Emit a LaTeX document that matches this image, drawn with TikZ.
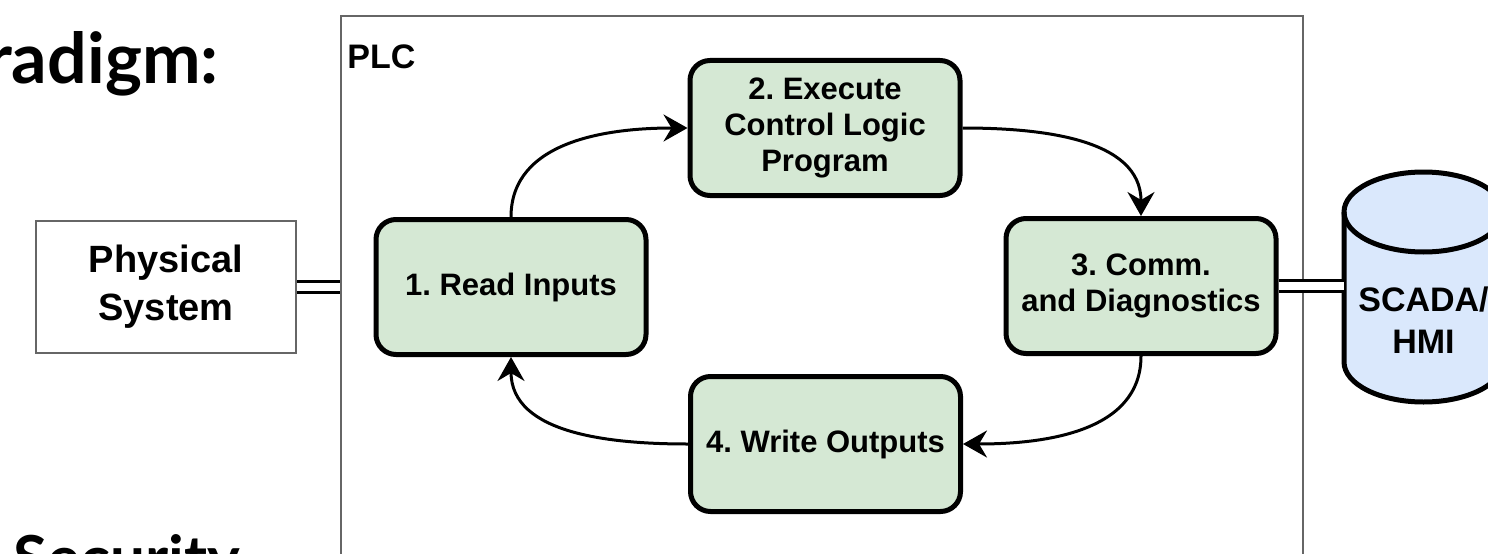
\documentclass[tikz,border=0pt]{standalone}
\usepackage{fontspec}
\setmainfont{Liberation Sans}
\newfontfamily\titlefont{Lato}
\usepackage{xcolor}
\usetikzlibrary{arrows.meta}
\usetikzlibrary{calc}
\frenchspacing

\definecolor{stepgreen}{HTML}{D5E8D4}
\definecolor{hmiblue}{HTML}{DAE8FC}
\definecolor{framegray}{HTML}{666666}

\tikzset{
  phase/.style={draw=black,line width=2.5pt,fill=stepgreen,rounded corners=10pt,
    minimum width=135pt,minimum height=67.5pt,inner sep=0pt,align=center,
    font=\bfseries\fontsize{15.5}{18}\selectfont},
  link/.style={draw=black,line width=1.65pt,double=white,double distance=3.7pt},
  flow/.style={draw=black,line width=1.5pt,-{Stealth[length=12pt,width=13.5pt,inset=4pt]}},
  slide/.style={inner sep=0pt,font=\titlefont\bfseries\fontsize{35}{42}\selectfont}
}

\begin{document}
\begin{tikzpicture}[x=0.5pt,y=0.5pt]
    \useasboundingbox (0,0) rectangle (1488,553);

    % text of the slide
    \node[slide,anchor=base east] (ttl) at (219,470) {radigm:};
    \node[slide,anchor=base west,font=\titlefont\bfseries\fontsize{31}{37}\selectfont] (sec) at (13,-27) {Security};

    % PLC frame
    \node[draw=framegray,line width=1pt,minimum width=481pt,minimum height=292pt,inner sep=0pt] (plc) at (822,245) {};
    \node[anchor=base west,inner sep=0pt,font=\bfseries\fontsize{17}{20}\selectfont] (plclbl) at (347,485) {PLC};

    \node[draw=framegray,line width=1pt,fill=white,minimum width=130pt,minimum height=66pt,inner sep=0pt,
      align=center,font=\bfseries\fontsize{19}{24}\selectfont] (phys) at (166,266) {Physical\\System};

    % SCADA cylinder
    \filldraw[fill=hmiblue,line width=2.5pt] (1344,341) -- (1344,191)
      arc[start angle=180,end angle=360,x radius=39.75pt,y radius=20pt] -- (1503,341)
      arc[start angle=0,end angle=180,x radius=39.75pt,y radius=20pt] -- cycle;
    \draw[line width=2.5pt] (1344,341) arc[start angle=180,end angle=360,x radius=39.75pt,y radius=20pt];
    \node[minimum width=79.5pt,inner sep=0pt,align=center,font=\bfseries\fontsize{17}{21}\selectfont] (scada) at (1423.5,233) {SCADA/\\HMI};

    \begin{scope}[every node/.style={phase}]
    \node (s1) at (511,266) {1. Read Inputs};
    \node (s2) at (825,425) {2. Execute\\Control Logic\\Program};
    \node (s3) at (1141,267) {3. Comm.\\and Diagnostics};
    \node (s4) at (825.5,109) {4. Write Outputs};
    \end{scope}

    \draw[link] (phys.east) -- (phys.east -| plc.west);
    \draw[link] (s3.east) -- (s3.east -| scada.west);

    \begin{scope}[every edge/.style={flow}]
    \path (s1) edge[out=90,in=180] (s2);
    \path (s2) edge[out=0,in=90] (s3);
    \path (s3) edge[out=-90,in=0] (s4);
    \path (s4) edge[out=180,in=-90] (s1);
    \end{scope}
\end{tikzpicture}
\end{document}
